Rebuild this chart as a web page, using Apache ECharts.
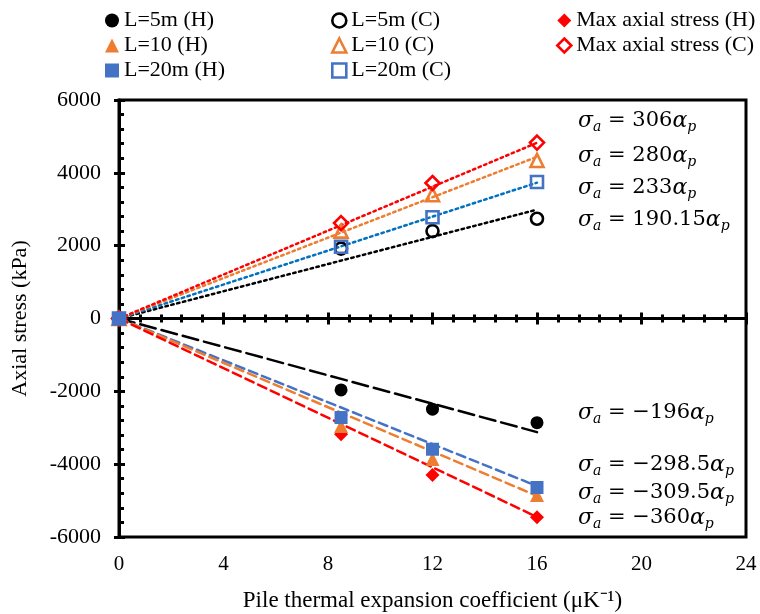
<!DOCTYPE html>
<html>
<head>
<meta charset="utf-8">
<script src="https://cdn.jsdelivr.net/npm/echarts@6/dist/echarts.min.js"></script>
<style>html,body{margin:0;padding:0;background:#fff}#c{width:760px;height:614px}</style>
</head>
<body>
<div id="c"></div>
<script>
// ---- data ----
const xVals = [0, 8.5, 12, 16];
const L5H  = [0, -1960, -2490, -2860];
const L5C  = [0, 1920, 2400, 2740];
const MaxH = [0, -3180, -4300, -5460];
const L10H = [0, -2950, -3860, -4850];
const L10C = [0, 2400, 3400, 4340];
const MaxC = [0, 2620, 3720, 4830];
const L20H = [0, -2720, -3590, -4640];
const L20C = [0, 1970, 2780, 3750];

const trendX = [0, 16];
const trendL5C  = [0, 2990];
const trendL20C = [0, 3730];
const trendL10C = [0, 4440];
const trendMaxC = [0, 4825];
const trendL5H  = [0, -3120];
const trendL20H = [0, -4600];
const trendL10H = [0, -4870];
const trendMaxH = [0, -5450];

const xTicks = [0, 4, 8, 12, 16, 20, 24];
const eqTop = ['306', '280', '233', '190.15'];
const eqBottom = ['−196', '−298.5', '−309.5', '−360'];

// ---- helpers ----
const pairs = (xs, ys) => xs.map((x, i) => [x, ys[i]]);
const SERIF = 'Liberation Serif';
const MATH = 'DejaVu Serif';
const BLACK = '#000000', ORANGE = '#ED7D31', BLUE = '#4472C4', RED = '#FF0000', TBLUE = '#0070C0';

function trend(name, ys, color, dash) {
  return {
    name: name, type: 'line', data: pairs(trendX, ys), xAxisIndex: 0, yAxisIndex: 0,
    symbol: 'none', silent: true, z: 1,
    lineStyle: { color: color, width: 2.5, type: dash, cap: 'round' }
  };
}
function scat(name, ys, symbol, size, color, filled) {
  return {
    name: name, type: 'scatter', data: pairs(xVals, ys), xAxisIndex: 0, yAxisIndex: 0,
    symbol: symbol, symbolSize: size, z: 3,
    itemStyle: filled ? { color: color, opacity: 1 } :
      { color: 'rgba(0,0,0,0)', borderColor: color, borderWidth: 2.6, opacity: 1 }
  };
}
function legItem(name, icon, color, filled) {
  return {
    name: name, icon: icon,
    itemStyle: filled ? { color: color } : { color: 'rgba(0,0,0,0)', borderColor: color, borderWidth: 2.6 }
  };
}

const names = {
  l5h: 'L=5m (H)', l5c: 'L=5m (C)', mh: 'Max axial stress (H)',
  l10h: 'L=10 (H)', l10c: 'L=10 (C)', mc: 'Max axial stress (C)',
  l20h: 'L=20m (H)', l20c: 'L=20m (C)'
};

const legendText = { fontFamily: SERIF, fontSize: 22, color: '#000', lineHeight: 25 };
function legend(left, items) {
  return {
    orient: 'vertical', left: left, top: 8, itemGap: 0, itemWidth: 14, itemHeight: 14,
    itemTextGap: 3, selectedMode: false, textStyle: legendText, data: items, padding: 0
  };
}

const eqRich = {
  i: { fontFamily: MATH, fontStyle: 'italic', fontSize: 22, lineHeight: 26, color: '#000' },
  n: { fontFamily: MATH, fontSize: 21, lineHeight: 26, color: '#000' },
  s: { fontFamily: MATH, fontStyle: 'italic', fontSize: 14, lineHeight: 14, verticalAlign: 'bottom', color: '#000' }
};
function eq(coef, y) {
  return {
    type: 'text', left: 578, top: y - 13, z: 100,
    style: { text: '{i|σ}{s|a}{n| = ' + coef + '}{i|α}{s|p}', rich: eqRich }
  };
}
const eqTopY = [123, 158, 190, 222];
const eqBotY = [415, 467, 495, 520];

const chart = echarts.init(document.getElementById('c'), null, { renderer: 'canvas' });
chart.setOption({
  animation: false,
  backgroundColor: '#fff',
  grid: { left: 119, right: 14, top: 100, bottom: 77, outerBoundsMode: 'none', containLabel: false,
    show: true, borderColor: '#000', borderWidth: 3, backgroundColor: 'transparent' },
  legend: [
    legend(105, [legItem(names.l5h, 'circle', BLACK, true), legItem(names.l10h, 'triangle', ORANGE, true), legItem(names.l20h, 'rect', BLUE, true)]),
    legend(331, [legItem(names.l5c, 'circle', BLACK, false), legItem(names.l10c, 'triangle', ORANGE, false), legItem(names.l20c, 'rect', BLUE, false)]),
    legend(556, [legItem(names.mh, 'diamond', RED, true), legItem(names.mc, 'diamond', RED, false)])
  ],
  xAxis: [
    {
      type: 'value', min: 0, max: 24, interval: 4, position: 'bottom',
      axisLine: { show: false, onZero: false }, axisTick: { show: false }, splitLine: { show: false },
      axisLabel: { fontFamily: SERIF, fontSize: 21, color: '#000', margin: 17,
        formatter: v => (xTicks.indexOf(v) >= 0 ? String(v) : '') },
      name: 'Pile thermal expansion coefficient (μK⁻¹)', nameLocation: 'middle', nameGap: 52,
      nameTextStyle: { fontFamily: SERIF, fontSize: 23, color: '#000' }
    },
    {
      type: 'value', min: 0, max: 24, interval: 4, position: 'bottom',
      axisLine: { show: true, onZero: true, onZeroAxisIndex: 0, lineStyle: { color: '#000', width: 3 } },
      axisTick: { show: true, inside: false, length: 6, lineStyle: { color: '#000', width: 3 } },
      minorTick: { show: true, splitNumber: 5, length: 4, lineStyle: { color: '#000', width: 3 } },
      axisLabel: { show: false }, splitLine: { show: false }
    },
    {
      type: 'value', min: 0, max: 24, interval: 4, position: 'bottom',
      axisLine: { show: true, onZero: true, onZeroAxisIndex: 0, lineStyle: { color: '#000', width: 3 } },
      axisTick: { show: true, inside: true, length: 6, lineStyle: { color: '#000', width: 3 } },
      minorTick: { show: true, splitNumber: 5, length: 4, lineStyle: { color: '#000', width: 3 } },
      axisLabel: { show: false }, splitLine: { show: false }
    }
  ],
  yAxis: [
    {
      type: 'value', min: -6000, max: 6000, interval: 2000, position: 'left',
      axisLine: { show: true, onZero: false, lineStyle: { color: '#000', width: 3 } },
      axisTick: { show: true, inside: false, length: 5, lineStyle: { color: '#000', width: 3 } },
      splitLine: { show: false },
      axisLabel: { fontFamily: SERIF, fontSize: 22, color: '#000', margin: 18, formatter: v => String(v) },
      name: 'Axial stress (kPa)', nameLocation: 'middle', nameGap: 88, nameRotate: 90,
      nameTextStyle: { fontFamily: SERIF, fontSize: 22, color: '#000' }
    },
    {
      type: 'value', min: -6000, max: 6000, interval: 2000, position: 'left',
      axisLine: { show: false, onZero: false },
      axisTick: { show: true, inside: true, length: 6, lineStyle: { color: '#000', width: 3 } },
      minorTick: { show: true, splitNumber: 5, length: 5, lineStyle: { color: '#000', width: 3 } },
      axisLabel: { show: false }, splitLine: { show: false }
    }
  ],
  series: [
    trend('t5c', trendL5C, BLACK, [2.5, 3.5]),
    trend('t20c', trendL20C, TBLUE, [2.5, 3.5]),
    trend('t10c', trendL10C, ORANGE, [2.5, 3.5]),
    trend('tmc', trendMaxC, RED, [2.5, 3.5]),
    trend('t5h', trendL5H, BLACK, [16, 6]),
    trend('t20h', trendL20H, BLUE, [9, 5]),
    trend('t10h', trendL10H, ORANGE, [9, 5]),
    trend('tmh', trendMaxH, RED, [9, 5]),
    scat(names.l5h, L5H, 'circle', 13, BLACK, true),
    scat(names.l5c, L5C, 'circle', 12, BLACK, false),
    scat(names.mh, MaxH, 'diamond', 14, RED, true),
    scat(names.l10h, L10H, 'triangle', 14, ORANGE, true),
    scat(names.l10c, L10C, 'triangle', 13, ORANGE, false),
    scat(names.mc, MaxC, 'diamond', 14, RED, false),
    scat(names.l20h, L20H, 'rect', 13, BLUE, true),
    scat(names.l20c, L20C, 'rect', 12, BLUE, false)
  ],
  graphic: [
    ...eqTop.map((c, i) => eq(c, eqTopY[i])),
    ...eqBottom.map((c, i) => eq(c, eqBotY[i]))
  ]
});
</script>
</body>
</html>
